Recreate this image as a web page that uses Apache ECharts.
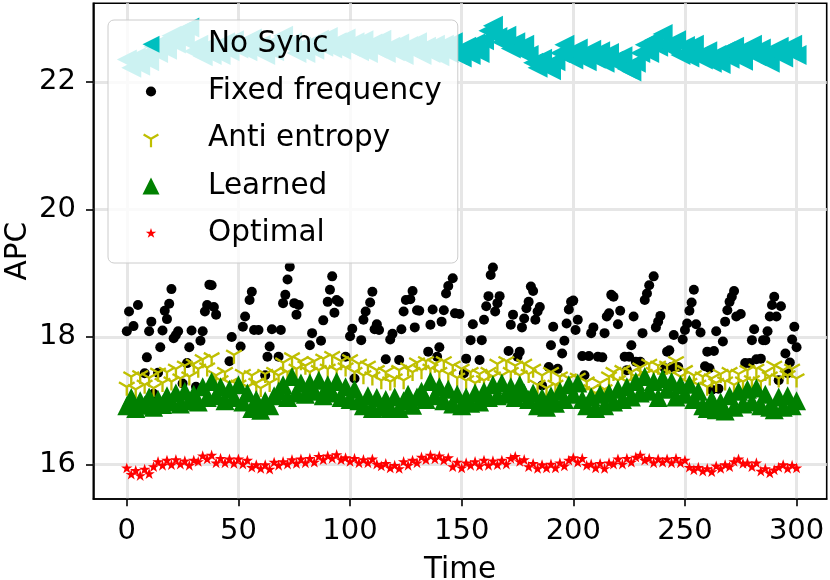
<!DOCTYPE html>
<html>
<head>
<meta charset="utf-8">
<script src="https://cdn.jsdelivr.net/npm/echarts@6.0.0/dist/echarts.min.js"></script>
<style>
  html, body { margin: 0; padding: 0; background: #fff; }
  #chart { width: 830px; height: 580px; }
</style>
</head>
<body>
<div id="chart"></div>
<script>
// samples every 2 time units (t = 0, 2, ..., 300)
var step = 2;

var noSync = [
  22.35,22.22,22.38,22.25,22.42,22.32,22.55,22.45,22.62,22.50,
  22.72,22.60,22.78,22.65,22.85,22.48,22.58,22.40,22.55,22.42,
  22.55,22.42,22.62,22.48,22.65,22.52,22.60,22.48,22.68,22.50,
  22.58,22.42,22.55,22.48,22.65,22.72,22.58,22.62,22.45,22.55,
  22.45,22.58,22.50,22.66,22.55,22.70,22.52,22.62,22.50,22.68,
  22.55,22.62,22.48,22.65,22.45,22.60,22.52,22.66,22.45,22.55,
  22.48,22.60,22.42,22.56,22.50,22.62,22.42,22.55,22.45,22.58,
  22.40,22.58,22.45,22.62,22.42,22.38,22.55,22.42,22.60,22.45,
  22.65,22.80,22.88,22.70,22.62,22.72,22.52,22.62,22.48,22.58,
  22.42,22.30,22.22,22.36,22.25,22.18,22.32,22.45,22.58,22.40,
  22.35,22.52,22.38,22.32,22.50,22.36,22.48,22.30,22.45,22.33,
  22.28,22.40,22.20,22.16,22.30,22.45,22.58,22.45,22.65,22.55,
  22.75,22.55,22.52,22.65,22.42,22.56,22.38,22.58,22.40,22.35,
  22.48,22.30,22.42,22.28,22.48,22.36,22.55,22.38,22.33,22.52,
  22.58,22.40,22.52,22.36,22.30,22.48,22.55,22.38,22.50,22.58,
  22.42
];

var antiEntropy = [
  17.22,17.38,17.18,17.40,17.25,17.36,17.20,17.44,17.28,17.45,
  17.30,17.50,17.35,17.55,17.38,17.58,17.50,17.65,17.52,17.68,
  17.40,17.32,17.45,17.28,17.72,17.25,17.42,17.22,17.40,17.28,
  17.20,17.42,17.28,17.45,17.40,17.60,17.45,17.68,17.50,17.62,
  17.55,17.45,17.62,17.48,17.66,17.50,17.70,17.48,17.62,17.52,
  17.65,17.45,17.58,17.40,17.55,17.38,17.48,17.32,17.45,17.30,
  17.35,17.48,17.32,17.52,17.45,17.60,17.48,17.62,17.50,17.58,
  17.45,17.62,17.42,17.55,17.36,17.50,17.32,17.45,17.28,17.42,
  17.32,17.45,17.38,17.58,17.40,17.62,17.45,17.55,17.40,17.58,
  17.42,17.50,17.25,17.40,17.20,17.45,17.25,17.38,17.18,17.35,
  17.22,17.36,17.15,17.30,17.18,17.12,17.28,17.18,17.38,17.45,
  17.32,17.48,17.30,17.45,17.38,17.52,17.42,17.58,17.45,17.55,
  17.40,17.55,17.42,17.62,17.38,17.48,17.28,17.40,17.25,17.38,
  17.22,17.35,17.28,17.42,17.30,17.45,17.25,17.42,17.30,17.48,
  17.32,17.50,17.30,17.45,17.38,17.55,17.35,17.48,17.40,17.50,
  17.35
];

var learned = [
  16.92,17.05,16.88,17.00,16.93,17.06,16.90,17.02,16.94,17.08,
  16.98,17.12,16.95,17.15,17.00,17.10,16.98,17.22,17.05,17.30,
  17.08,17.22,17.00,17.18,17.05,17.25,16.98,17.12,16.88,17.02,
  16.85,17.00,16.92,17.08,17.15,17.25,17.05,17.38,17.12,17.28,
  17.10,17.28,17.15,17.32,17.08,17.25,17.12,17.30,17.05,17.22,
  17.02,17.18,17.00,16.92,17.08,16.88,17.05,16.90,17.02,16.88,
  17.06,16.88,17.00,17.10,16.93,17.06,17.15,17.02,17.30,17.08,
  17.22,17.00,17.18,16.95,17.10,16.92,17.06,16.96,17.12,16.98,
  17.15,17.05,17.25,17.08,17.28,17.10,17.22,17.05,17.25,17.12,
  17.02,17.12,16.92,17.05,16.90,17.08,16.96,17.15,17.02,17.25,
  17.10,17.28,17.02,16.92,17.06,16.88,17.10,16.92,17.12,16.98,
  17.18,17.02,17.22,17.06,17.30,17.12,17.38,17.15,17.30,17.05,
  17.35,17.18,17.30,17.06,17.25,17.10,17.26,17.02,17.15,16.92,
  16.88,17.02,16.86,16.98,16.84,17.08,16.90,17.15,16.95,17.18,
  16.98,17.20,16.92,17.10,16.90,16.86,17.06,16.90,17.08,16.92,
  17.00
];

var optimal = [
  15.94,15.84,15.90,15.82,15.92,15.85,15.96,16.04,15.98,16.06,
  15.99,16.07,16.00,16.05,15.98,16.06,16.04,16.13,16.08,16.14,
  16.02,16.09,16.02,16.08,16.01,16.08,16.00,16.06,15.95,15.99,
  15.93,15.99,15.92,16.03,15.98,16.04,16.00,16.07,16.01,16.08,
  16.02,16.09,16.03,16.12,16.07,16.13,16.09,16.15,16.07,16.10,
  16.04,16.09,16.02,16.07,16.02,16.08,16.00,15.97,16.01,15.94,
  15.98,15.93,16.04,15.98,16.06,16.02,16.11,16.07,16.14,16.08,
  16.13,16.06,16.10,15.96,16.03,15.94,16.02,15.98,16.04,15.97,
  16.06,15.98,16.05,15.99,16.06,16.00,16.09,16.12,16.04,16.07,
  15.96,16.01,15.93,15.99,15.94,16.00,15.94,16.02,15.97,16.06,
  16.10,16.03,16.09,15.98,16.00,15.94,16.01,15.93,16.02,16.00,
  16.08,16.00,16.09,16.03,16.11,16.14,16.06,16.09,16.02,16.08,
  16.03,16.08,16.02,16.09,16.02,16.06,15.95,15.91,15.95,15.89,
  15.93,15.88,15.97,15.93,15.99,15.96,16.04,16.08,16.01,16.02,
  15.96,16.02,15.89,15.93,15.86,15.91,15.95,15.99,15.93,15.98,
  15.94
];

// fixed frequency: [time, APC] for the visible dots
var fixedFrequency = [
  [0,18.09],[1,18.40],[3,18.17],[5,18.50],[8,17.43],[9,17.68],[10,18.09],[11,18.24],[12,17.11],[14,17.44],
  [15,17.84],[16,18.10],[17,18.41],[18,18.28],[19,18.52],[20,18.75],[21,17.98],[22,18.03],[23,18.09],[25,17.27],
  [27,17.59],[28,17.84],[29,18.10],[31,17.22],[33,17.94],[34,18.09],[35,18.40],[36,18.50],[37,18.82],[38,18.81],
  [39,18.47],[40,18.35],[46,17.62],[47,18.00],[51,17.85],[52,18.16],[53,18.32],[55,18.58],[56,18.71],[57,18.11],
  [59,18.11],[62,17.40],[63,17.69],[64,17.85],[65,18.12],[68,17.69],[69,18.11],[70,18.53],[71,18.66],[72,18.90],
  [73,19.10],[75,18.53],[76,18.35],[77,18.50],[82,17.87],[83,18.06],[87,17.94],[88,18.26],[90,18.55],[91,18.74],
  [92,18.95],[93,18.38],[94,18.58],[95,18.55],[98,17.69],[100,18.01],[101,18.13],[102,17.35],[105,17.95],[106,18.27],
  [107,18.40],[109,18.54],[110,18.71],[111,18.12],[112,18.20],[113,18.11],[116,17.65],[118,17.96],[119,18.05],[122,17.64],
  [123,18.12],[124,18.40],[125,18.58],[127,18.59],[128,18.72],[129,18.15],[130,18.42],[131,18.41],[135,17.77],[136,18.19],
  [137,18.43],[139,17.69],[140,17.84],[141,18.24],[142,18.42],[143,18.68],[144,18.80],[146,18.92],[147,18.37],[149,18.36],
  [151,17.43],[152,17.66],[154,17.95],[155,18.20],[158,17.64],[159,17.95],[160,18.27],[161,18.48],[162,18.64],[163,18.97],
  [164,19.09],[165,18.40],[166,18.53],[167,18.64],[171,17.78],[172,18.19],[173,18.35],[175,17.69],[176,17.77],[177,18.15],
  [178,18.29],[179,18.45],[180,18.55],[181,18.79],[182,18.72],[183,18.27],[184,18.40],[185,18.47],[186,17.24],[189,17.53],
  [190,17.87],[191,18.16],[193,17.50],[195,17.74],[196,17.94],[197,18.21],[198,18.43],[199,18.55],[200,18.57],[201,18.11],
  [202,18.27],[204,17.70],[205,17.40],[207,17.70],[208,18.06],[209,18.15],[211,17.69],[213,17.68],[214,18.06],[215,18.32],
  [216,18.37],[217,18.66],[218,18.63],[220,18.20],[221,18.41],[223,17.69],[224,17.48],[225,17.69],[226,17.87],[227,18.32],
  [228,17.61],[230,17.61],[231,18.06],[232,18.58],[233,18.68],[234,18.81],[236,18.95],[237,18.15],[238,18.24],[239,18.33],
  [241,17.51],[242,17.77],[243,17.79],[244,17.53],[245,18.03],[247,17.53],[249,17.96],[250,18.11],[251,18.21],[252,18.41],
  [253,18.54],[254,18.74],[255,18.20],[257,18.07],[259,17.54],[260,17.77],[261,17.51],[262,17.17],[263,17.78],[264,18.09],
  [265,17.19],[267,17.93],[268,18.24],[269,18.42],[270,18.55],[271,18.63],[272,18.72],[273,18.32],[275,18.36],[277,17.59],
  [279,17.59],[280,17.95],[281,18.12],[282,17.65],[284,17.66],[285,17.95],[286,17.95],[287,18.09],[288,18.32],[289,18.50],
  [290,18.63],[291,18.32],[292,17.32],[293,18.48],[295,17.74],[296,17.43],[297,17.60],[298,17.96],[299,18.16],[300,17.84]
];

var xTicks = [0, 50, 100, 150, 200, 250, 300];
var yTicks = [16, 18, 20, 22];

var times = noSync.map(function (v, i) { return i * step; });
function pairs(vals) {
  return vals.map(function (v, i) { return [times[i], v]; });
}

var font = "DejaVu Sans";

// marker shapes (matplotlib '<', 'o', '1', '^', '*')
var triLeft = "path://M0 50L100 0L100 100Z";
var triUp = "path://M50 0L100 100L0 100Z";
var triDown = "path://M0 0M100 100M56.5 100L43.5 100L43.5 53.7L3.2 30.6L9.7 19.4L50 42.6L90.3 19.4L96.8 30.6L56.5 53.7Z";
var star = "path://M0 0M100 100M50 0L61.23 34.55L97.55 34.55L68.16 55.9L79.39 90.45L50 69.1L20.61 90.45L31.84 55.9L2.45 34.55L38.77 34.55Z";

// legend icons: marker on the left of a wide box, so text sits further right
var legNoSync = "path://M356 0M0 50L100 0L100 100Z";
var legFixed = "path://M0 0M356 100M80 50A30 30 0 1 1 20 50A30 30 0 1 1 80 50Z";
var legAnti = "path://M0 0M356 100M56.5 100L43.5 100L43.5 53.7L3.2 30.6L9.7 19.4L50 42.6L90.3 19.4L96.8 30.6L56.5 53.7Z";
var legLearned = "path://M356 0M50 0L100 100L0 100Z";
var legOptimal = "path://M0 0M356 100M50 17.5L57.3 39.96L80.91 39.96L61.8 53.84L69.1 76.29L50 62.42L30.9 76.29L38.2 53.84L19.09 39.96L42.7 39.96Z";

var myChart = echarts.init(document.getElementById("chart"));

var option = {
  animation: false,
  textStyle: { fontFamily: font },
  grid: {
    left: 93.3,
    right: 3.3,
    top: 3.3,
    bottom: 81,
    outerBoundsMode: "none",
    containLabel: false,
    show: true,
    borderColor: "#000",
    borderWidth: 1.6,
    backgroundColor: "transparent",
  },
  legend: {
    orient: "vertical",
    left: 108,
    top: 20,
    padding: [9.2, 16, 14.6, 34.5],
    itemWidth: 60.5,
    itemHeight: 17,
    itemGap: 17.3,
    symbolKeepAspect: false,
    selectedMode: false,
    backgroundColor: "rgba(255,255,255,0.8)",
    borderColor: "#cccccc",
    borderWidth: 1,
    borderRadius: 6,
    textStyle: { fontSize: 29.5, lineHeight: 30, color: "#000", fontFamily: font },
    data: [
      { name: "No Sync", icon: legNoSync },
      { name: "Fixed frequency", icon: legFixed },
      { name: "Anti entropy", icon: legAnti },
      { name: "Learned", icon: legLearned },
      { name: "Optimal", icon: legOptimal },
    ],
  },
  xAxis: {
    type: "value",
    min: -15,
    max: 313.5,
    name: "Time",
    nameLocation: "middle",
    nameGap: 56,
    nameMoveOverlap: false,
    nameTextStyle: { fontSize: 29.5, color: "#000", fontFamily: font },
    axisLine: { show: true, onZero: false, lineStyle: { color: "#000", width: 1.6 } },
    axisTick: { show: true, length: 7.3, customValues: xTicks, lineStyle: { color: "#000", width: 1.6 } },
    axisLabel: { customValues: xTicks, fontSize: 29, color: "#000", margin: 17.5, fontFamily: font },
    splitLine: { show: true, lineStyle: { color: "#e6e6e6", width: 3 } },
  },
  yAxis: {
    type: "value",
    min: 15.46,
    max: 23.23,
    name: "APC",
    nameLocation: "middle",
    nameGap: 60,
    nameMoveOverlap: false,
    nameTextStyle: { fontSize: 29.5, color: "#000", fontFamily: font },
    axisLine: { show: true, onZero: false, lineStyle: { color: "#000", width: 1.6 } },
    axisTick: { show: true, length: 7.3, customValues: yTicks, lineStyle: { color: "#000", width: 1.6 } },
    axisLabel: { customValues: yTicks, fontSize: 29, color: "#000", margin: 17.3, fontFamily: font },
    splitLine: { show: true, lineStyle: { color: "#e6e6e6", width: 3 } },
  },
  series: [
    {
      name: "No Sync",
      type: "scatter",
      data: pairs(noSync),
      symbol: triLeft,
      symbolSize: 20,
      itemStyle: { color: "#00bfbf", opacity: 1 },
      silent: true,
    },
    {
      name: "Fixed frequency",
      type: "scatter",
      data: fixedFrequency,
      symbol: "circle",
      symbolSize: 10,
      itemStyle: { color: "#000000", opacity: 1 },
      silent: true,
    },
    {
      name: "Anti entropy",
      type: "scatter",
      data: pairs(antiEntropy),
      symbol: triDown,
      symbolSize: 18,
      itemStyle: { color: "#bfbf00", opacity: 1 },
      silent: true,
    },
    {
      name: "Learned",
      type: "scatter",
      data: pairs(learned),
      symbol: triUp,
      symbolSize: 19,
      itemStyle: { color: "#008000", opacity: 1 },
      silent: true,
    },
    {
      name: "Optimal",
      type: "scatter",
      data: pairs(optimal),
      symbol: star,
      symbolSize: 12,
      itemStyle: { color: "#ff0000", opacity: 1 },
      silent: true,
    },
  ],
};

myChart.setOption(option);
</script>
</body>
</html>
